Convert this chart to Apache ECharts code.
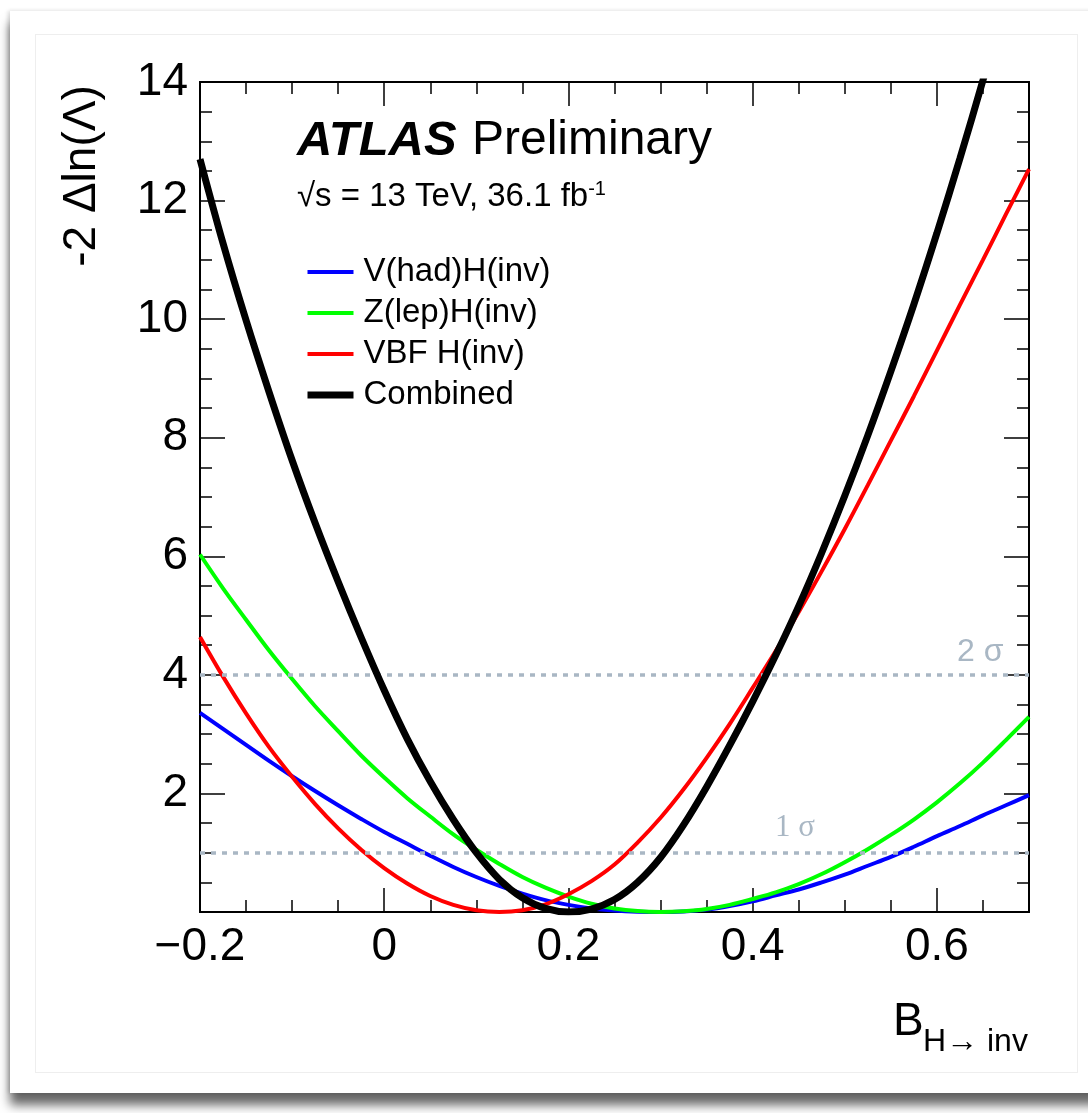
<!DOCTYPE html>
<html lang="en">
<head>
<meta charset="UTF-8">
<title>ATLAS H(inv) likelihood scan</title>
<style>
  body {margin:0; background:#fff}
  .wrap {position:relative; width:1088px; height:1113px; overflow:hidden}
  .card {position:absolute; left:10px; top:11px; width:1100px; height:1082px; background:#fff;
         box-shadow:0 12px 10px rgba(0,0,0,0.6), -2px 0 4px rgba(0,0,0,0.15)}
  .inner {position:absolute; left:35px; top:34px; width:1041px; height:1037px; border:1px solid #eeeeee}
  #chart {position:absolute; left:0; top:0; width:1088px; height:1113px}
</style>
<script src="https://cdn.jsdelivr.net/npm/echarts@6/dist/echarts.min.js"></script>
</head>
<body>
<div class="wrap">
  <div class="card"></div>
  <div class="inner"></div>
  <div id="chart"></div>
</div>
<script>
// B(H->inv) scan points
const xs = [-0.2, -0.175, -0.15, -0.125, -0.1, -0.075, -0.05, -0.025, 0, 0.025, 0.05, 0.075, 0.1,
  0.125, 0.15, 0.175, 0.2, 0.225, 0.25, 0.275, 0.3, 0.325, 0.35, 0.375, 0.4, 0.425, 0.45,
  0.475, 0.5, 0.525, 0.55, 0.575, 0.6, 0.625, 0.65, 0.675, 0.7]

const vhad = [3.36, 3.09, 2.82, 2.55, 2.29, 2.04, 1.80, 1.57, 1.35, 1.15, 0.95, 0.76, 0.59,
  0.44, 0.31, 0.20, 0.12, 0.06, 0.025, 0.006, 0.00, 0.01, 0.04, 0.10, 0.18, 0.28, 0.38,
  0.50, 0.63, 0.78, 0.93, 1.10, 1.28, 1.45, 1.63, 1.80, 1.97]

const zlep = [6.03, 5.46, 4.93, 4.41, 3.93, 3.47, 3.05, 2.64, 2.27, 1.92, 1.61, 1.31, 1.05,
  0.81, 0.59, 0.41, 0.26, 0.14, 0.06, 0.015, 0.00, 0.013, 0.05, 0.12, 0.22, 0.33, 0.47,
  0.64, 0.84, 1.06, 1.30, 1.56, 1.85, 2.17, 2.52, 2.90, 3.29]

const vbf = [4.64, 3.97, 3.35, 2.78, 2.28, 1.82, 1.41, 1.05, 0.74, 0.48, 0.27, 0.12, 0.03,
  0.00, 0.03, 0.13, 0.30, 0.52, 0.80, 1.17, 1.59, 2.07, 2.60, 3.17, 3.78, 4.40, 5.06,
  5.75, 6.46, 7.20, 7.95, 8.70, 9.47, 10.24, 11.00, 11.77, 12.53]

const comb = [12.70, 11.28, 9.98, 8.77, 7.62, 6.56, 5.57, 4.63, 3.74, 2.92, 2.20, 1.56, 1.00,
  0.55, 0.24, 0.06, 0.00, 0.05, 0.21, 0.50, 0.92, 1.47, 2.11, 2.81, 3.55, 4.33, 5.16,
  6.06, 7.02, 8.04, 9.12, 10.25, 11.45, 12.71, 14.03, 15.40, 16.80]

const names = ['V(had)H(inv)', 'Z(lep)H(inv)', 'VBF H(inv)', 'Combined']
const colors = ['#0000ff', '#00ff00', '#ff0000', '#000000']
const widths = [4, 4, 4, 7]
const sigmaLevels = [1, 4]
const sigmaLabels = ['1 σ', '2 σ']

const FONT = "'Liberation Sans', Arial, Helvetica, sans-serif"
const SIGMA_COL = '#a9b7c4'

let chart = echarts.init(document.getElementById('chart'))

function pts(ys) {
  return xs.map((x, i) => [x, ys[i]])
}

function fmtX(v) {
  let r = Math.round(v * 10) / 10
  if (Math.abs(r) < 1e-9) return '0'
  return r < 0 ? '\u2212' + Math.abs(r) : String(r)
}

// tick-only axis helper (ROOT style: ticks inside, on all four sides)
function xTicks(pos, interval, len, labels) {
  return {
    type: 'value', position: pos, min: -0.2, max: 0.7, interval: interval,
    axisLine: {show: true, onZero: false, lineStyle: {color: '#000', width: 2}},
    axisTick: {show: true, inside: true, length: len, lineStyle: {color: '#000', width: 1.5}},
    axisLabel: labels ? {show: true, showMaxLabel: false, margin: 12, color: '#000',
      fontFamily: FONT, fontSize: 46, formatter: fmtX} : {show: false},
    splitLine: {show: false}
  }
}

function yTicks(pos, labels) {
  return {
    type: 'value', position: pos, min: 0, max: 14, interval: 2,
    axisLine: {show: true, onZero: false, lineStyle: {color: '#000', width: 2}},
    axisTick: {show: true, inside: true, length: 25, lineStyle: {color: '#000', width: 1.5}},
    minorTick: {show: true, splitNumber: 4, length: 12, lineStyle: {color: '#000', width: 1.5}},
    axisLabel: labels ? {show: true, margin: 12, color: '#000', fontFamily: FONT, fontSize: 46,
      formatter: v => v === 0 ? '' : String(v)} : {show: false},
    splitLine: {show: false}, minorSplitLine: {show: false}
  }
}

let series = [{
  type: 'line', name: 'sigma', data: [], z: 1, silent: true,
  markLine: {
    silent: true, symbol: 'none', animation: false,
    lineStyle: {color: SIGMA_COL, width: 3.5, type: [5, 6]},
    label: {show: false},
    data: sigmaLevels.map(v => ({yAxis: v}))
  },
  markPoint: {
    silent: true, symbol: 'circle', symbolSize: 0, animation: false,
    label: {show: true, position: 'inside', color: SIGMA_COL, formatter: p => p.name},
    data: [
      {name: sigmaLabels[0], coord: [0.446, 1.42], label: {fontSize: 31, fontFamily: "'Liberation Serif', serif"}},
      {name: sigmaLabels[1], coord: [0.647, 4.38], label: {fontSize: 32, fontFamily: FONT}}
    ]
  }
}]

let curves = [vhad, zlep, vbf, comb]
curves.forEach((ys, i) => {
  series.push({
    type: 'line', name: names[i], data: pts(ys),
    xAxisIndex: 0, yAxisIndex: 0, z: 2 + i,
    smooth: 0.35, symbol: 'none', showSymbol: false, clip: true,
    lineStyle: {color: colors[i], width: widths[i]},
    itemStyle: {color: colors[i]},
    emphasis: {disabled: true}, animation: false
  })
})

let option = {
  animation: false,
  grid: {left: 200, right: 59, top: 82, bottom: 201, containLabel: false},
  xAxis: [
    xTicks('bottom', 0.2, 24, true),
    xTicks('bottom', 0.05, 12, false),
    xTicks('top', 0.2, 24, false),
    xTicks('top', 0.05, 12, false)
  ],
  yAxis: [
    yTicks('left', true),
    yTicks('right', false)
  ],
  legend: {
    orient: 'vertical', left: 304, top: 254, padding: 0,
    itemWidth: 46, itemHeight: 14, itemGap: 5,
    selectedMode: false,
    textStyle: {color: '#000', fontFamily: FONT, fontSize: 33, lineHeight: 36, padding: [0, 0, 0, 5]},
    data: names.map((n, i) => ({
      name: n,
      lineStyle: {width: widths[i], color: colors[i]},
      itemStyle: {opacity: 0}
    }))
  },
  graphic: [
    {type: 'text', x: 297, y: 141, style: {text: 'ATLAS', font: 'italic bold 49px ' + FONT,
      fill: '#000', textVerticalAlign: 'middle'}},
    {type: 'text', x: 472, y: 141, style: {text: 'Preliminary', font: '48px ' + FONT,
      fill: '#000', textVerticalAlign: 'middle'}},
    {type: 'text', x: 297, y: 197, style: {
      text: '{a|\u221As = 13 TeV, 36.1 fb}{b|-1}', fill: '#000', textVerticalAlign: 'middle',
      rich: {
        a: {fontFamily: FONT, fontSize: 33, lineHeight: 36},
        b: {fontFamily: FONT, fontSize: 20, verticalAlign: 'top', lineHeight: 20}
      }}},
    {type: 'text', x: 82, y: 176, rotation: Math.PI / 2,
      style: {text: '-2 \u0394ln(\u039B)', font: '46px ' + FONT, fill: '#000',
        textAlign: 'center', textVerticalAlign: 'middle'}},
    {type: 'text', x: 893, y: 1022, style: {text: 'B', font: '46px ' + FONT, fill: '#000',
      textVerticalAlign: 'middle'}},
    {type: 'text', x: 923, y: 1042, style: {text: 'H\u2192 inv', font: '32px ' + FONT, fill: '#000',
      textVerticalAlign: 'middle'}}
  ],
  series: series
}

chart.setOption(option)
</script>
</body>
</html>
